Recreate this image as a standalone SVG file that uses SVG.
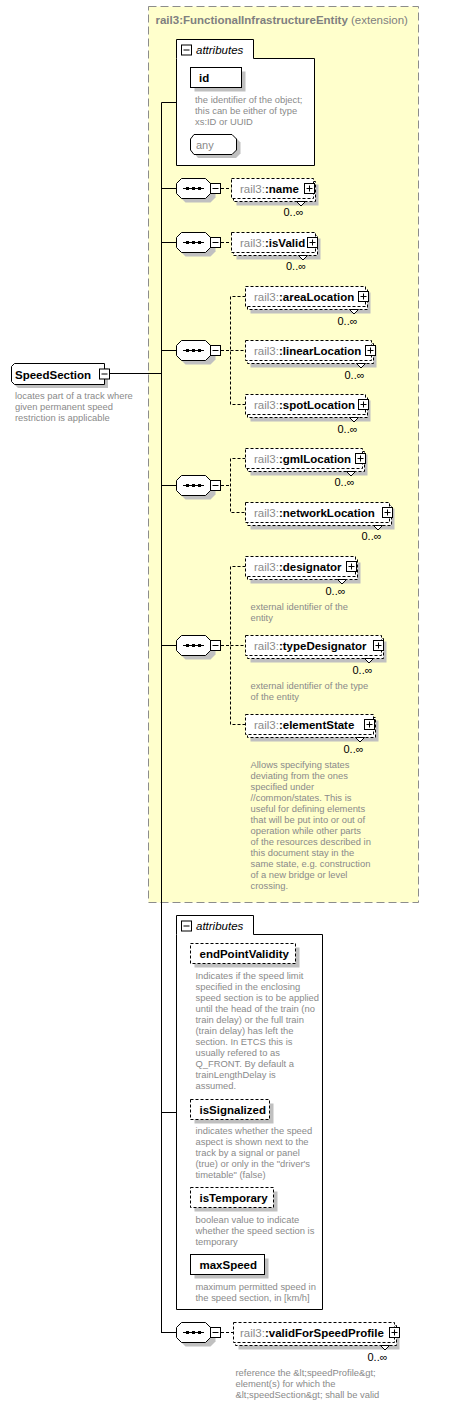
<svg xmlns="http://www.w3.org/2000/svg" xmlns:xlink="http://www.w3.org/1999/xlink" width="461" height="1405" viewBox="0 0 461 1405">
<style>
text{font-family:"Liberation Sans",Arial,sans-serif}
.t{font-size:11.5px;font-weight:bold;fill:#000}
.p{font-size:11.5px;font-weight:normal;fill:#8a8a8a}
.d{font-size:9.4px;fill:#8a8a8a}
.m{font-size:11px;fill:#000}
.ti{font-size:11.5px;font-weight:bold;fill:#808080}
.tn{font-size:11.5px;font-weight:normal;fill:#808080}
.at{font-size:11.5px;font-style:italic;fill:#000}
.ln{stroke:#000;stroke-width:1;fill:none}
.dl{stroke:#000;stroke-width:1;fill:none;stroke-dasharray:3,2}
.bx{fill:#fff;stroke:#000;stroke-width:1}
.db{fill:#fff;stroke:#000;stroke-width:1;stroke-dasharray:3,2}
.sh{fill:#c0c0c0}
</style>
<defs>
<symbol id="minus" viewBox="0 0 11 11" width="11" height="11" overflow="visible">
<rect x="0.5" y="0.5" width="10" height="10" fill="#fff" stroke="#000"/>
<line x1="2.5" y1="5.5" x2="8.5" y2="5.5" stroke="#000"/>
</symbol>
<symbol id="plus" viewBox="0 0 11 11" width="11" height="11" overflow="visible">
<rect x="0.5" y="0.5" width="10" height="10" fill="#fff" stroke="#000"/>
<line x1="2.5" y1="5.5" x2="8.5" y2="5.5" stroke="#000"/>
<line x1="5.5" y1="2.5" x2="5.5" y2="8.5" stroke="#000"/>
</symbol>
<symbol id="seq" viewBox="0 0 40 26" width="40" height="26" overflow="visible">
<polygon points="9.5,4.5 34.5,4.5 39.5,9.5 39.5,19.5 34.5,24.5 9.5,24.5 4.5,19.5 4.5,9.5" fill="#c0c0c0"/>
<polygon points="5.5,0.5 29.5,0.5 34.5,5.5 34.5,15.5 29.5,20.5 5.5,20.5 0.5,15.5 0.5,5.5" fill="#fff" stroke="#000"/>
<line x1="7" y1="10.5" x2="28" y2="10.5" stroke="#000"/>
<rect x="10" y="9" width="3" height="3" fill="#000"/>
<rect x="16" y="9" width="3" height="3" fill="#000"/>
<rect x="22" y="9" width="3" height="3" fill="#000"/>
</symbol>
<symbol id="notch" viewBox="0 0 10 6" width="10" height="6" overflow="visible">
<polygon points="0.5,0.5 9.5,0.5 5,5" fill="#fff" stroke="#000"/>
</symbol>
</defs>

<g id="extension">
<rect x="148.5" y="6.5" width="270" height="896" fill="#ffffcc" stroke="#8c8c8c" stroke-dasharray="8,4"/>
<text x="155.5" y="24"><tspan class="ti">rail3:FunctionalInfrastructureEntity</tspan><tspan class="tn"> (extension)</tspan></text>
</g>

<g id="connectors">
<line class="ln" x1="161.5" y1="102.5" x2="161.5" y2="1333"/>
<line class="ln" x1="109" y1="373.5" x2="161.5" y2="373.5"/>
<line class="ln" x1="161.5" y1="102.5" x2="176.5" y2="102.5"/>
<line class="ln" x1="161.5" y1="188.5" x2="176.5" y2="188.5"/>
<line class="ln" x1="161.5" y1="242.5" x2="176.5" y2="242.5"/>
<line class="ln" x1="161.5" y1="350.5" x2="176.5" y2="350.5"/>
<line class="ln" x1="161.5" y1="485.5" x2="176.5" y2="485.5"/>
<line class="ln" x1="161.5" y1="645.5" x2="176.5" y2="645.5"/>
<line class="ln" x1="161.5" y1="1112.5" x2="176.5" y2="1112.5"/>
<line class="ln" x1="161.5" y1="1332.5" x2="176.5" y2="1332.5"/>
<line class="dl" x1="221" y1="188.5" x2="231.5" y2="188.5"/>
<line class="dl" x1="221" y1="242.5" x2="231.5" y2="242.5"/>
<path class="dl" d="M221,350.5 H230.5 M245.5,296.5 H230.5 V404.5 H245.5 M230.5,350.5 H245.5"/>
<path class="dl" d="M221,485.5 H230.5 M245.5,458.5 H230.5 V512.5 H245.5"/>
<path class="dl" d="M221,645.5 H230.5 M245.5,566.5 H230.5 V724.5 H245.5 M230.5,645.5 H245.5"/>
<line class="dl" x1="221" y1="1332.5" x2="233.5" y2="1332.5"/>
</g>

<g id="SpeedSection">
<polygon class="sh" points="18,368 108,368 108,388 18,388 15,385 15,371"/>
<polygon class="bx" points="14.5,363.5 104.5,363.5 104.5,384.5 14.5,384.5 11.5,381.5 11.5,366.5"/>
<text class="t" x="15" y="378.5">SpeedSection</text>
<use href="#minus" x="99" y="368.5"/>
<text class="d"><tspan x="15" y="399">locates part of a track where</tspan><tspan x="15" y="410">given permanent speed</tspan><tspan x="15" y="421">restriction is applicable</tspan></text>
</g>

<g id="attributes1">
<path class="bx" d="M176.5,58.5 V39.5 H253.5 V58.5 H314.5 V165.5 H176.5 Z"/>
<use href="#minus" x="181" y="44.5"/>
<text class="at" x="196" y="54">attributes</text>
</g>
<g id="id">
<rect class="sh" x="194.5" y="71.5" width="51" height="20"/>
<rect class="bx" x="190.5" y="67.5" width="51" height="20"/>
<text class="t" x="199" y="81.5">id</text>
<text class="d"><tspan x="195" y="103">the identifier of the object;</tspan><tspan x="195" y="114">this can be either of type</tspan><tspan x="195" y="125">xs:ID or UUID</tspan></text>
</g>
<g id="any">
<polygon class="sh" points="198,138 236,138 240.5,142.5 240.5,153.5 236,158 198,158 194.5,153.5 194.5,142.5"/>
<polygon class="bx" points="194,134.5 232,134.5 236.5,139 236.5,150 232,154.5 194,154.5 190.5,150 190.5,139"/>
<text class="m" x="196" y="148.5" fill="#8a8a8a" style="fill:#8a8a8a">any</text>
</g>

<g id="seq-name">
<use href="#seq" x="176" y="178"/>
<use href="#minus" x="210" y="183"/>
</g>
<g id="name">
<rect class="sh" x="236.5" y="184.5" width="82" height="21"/>
<rect class="db" x="233.5" y="181.5" width="82" height="20"/>
<rect class="db" x="231.5" y="178.5" width="82" height="20"/>
<text x="240" y="193"><tspan class="p">rail3:</tspan><tspan class="t">:name</tspan></text>
<use href="#plus" x="304" y="183"/>
<use href="#notch" x="296" y="201"/>
<text class="m" x="283.5" y="216">0..∞</text>
</g>

<g id="seq-isValid">
<use href="#seq" x="176" y="232"/>
<use href="#minus" x="210" y="237"/>
</g>
<g id="isValid">
<rect class="sh" x="236.5" y="238.5" width="84" height="21"/>
<rect class="db" x="233.5" y="235.5" width="84" height="20"/>
<rect class="db" x="231.5" y="232.5" width="84" height="20"/>
<text x="240" y="247"><tspan class="p">rail3:</tspan><tspan class="t">:isValid</tspan></text>
<use href="#plus" x="307" y="237"/>
<use href="#notch" x="298" y="255"/>
<text class="m" x="286" y="270">0..∞</text>
</g>

<g id="seq-location">
<use href="#seq" x="176" y="340"/>
<use href="#minus" x="210" y="345"/>
</g>
<g id="areaLocation">
<rect class="sh" x="250.5" y="292.5" width="120" height="21"/>
<rect class="db" x="247.5" y="289.5" width="120" height="20"/>
<rect class="db" x="245.5" y="286.5" width="120" height="20"/>
<text x="254" y="301"><tspan class="p">rail3:</tspan><tspan class="t">:areaLocation</tspan></text>
<use href="#plus" x="358" y="291"/>
<use href="#notch" x="349" y="309"/>
<text class="m" x="337.5" y="324.5">0..∞</text>
</g>
<g id="linearLocation">
<rect class="sh" x="250.5" y="346.5" width="126" height="21"/>
<rect class="db" x="247.5" y="343.5" width="126" height="20"/>
<rect class="db" x="245.5" y="340.5" width="126" height="20"/>
<text x="254" y="355"><tspan class="p">rail3:</tspan><tspan class="t">:linearLocation</tspan></text>
<use href="#plus" x="365" y="345"/>
<use href="#notch" x="356" y="363"/>
<text class="m" x="344.5" y="378.5">0..∞</text>
</g>
<g id="spotLocation">
<rect class="sh" x="250.5" y="400.5" width="120" height="21"/>
<rect class="db" x="247.5" y="397.5" width="120" height="20"/>
<rect class="db" x="245.5" y="394.5" width="120" height="20"/>
<text x="254" y="409"><tspan class="p">rail3:</tspan><tspan class="t">:spotLocation</tspan></text>
<use href="#plus" x="358" y="399"/>
<use href="#notch" x="349" y="417"/>
<text class="m" x="337.5" y="432.5">0..∞</text>
</g>

<g id="seq-gml">
<use href="#seq" x="176" y="475"/>
<use href="#minus" x="210" y="480"/>
</g>
<g id="gmlLocation">
<rect class="sh" x="250.5" y="454.5" width="117" height="21"/>
<rect class="db" x="247.5" y="451.5" width="117" height="20"/>
<rect class="db" x="245.5" y="448.5" width="117" height="20"/>
<text x="254" y="463"><tspan class="p">rail3:</tspan><tspan class="t">:gmlLocation</tspan></text>
<use href="#plus" x="355" y="453"/>
<use href="#notch" x="346" y="471"/>
<text class="m" x="334.5" y="486">0..∞</text>
</g>
<g id="networkLocation">
<rect class="sh" x="250.5" y="508.5" width="144" height="21"/>
<rect class="db" x="247.5" y="505.5" width="144" height="20"/>
<rect class="db" x="245.5" y="502.5" width="144" height="20"/>
<text x="254" y="517"><tspan class="p">rail3:</tspan><tspan class="t">:networkLocation</tspan></text>
<use href="#plus" x="382" y="507"/>
<use href="#notch" x="373" y="525"/>
<text class="m" x="361.5" y="540">0..∞</text>
</g>

<g id="seq-designator">
<use href="#seq" x="176" y="635"/>
<use href="#minus" x="210" y="640"/>
</g>
<g id="designator">
<rect class="sh" x="250.5" y="562.5" width="110" height="21"/>
<rect class="db" x="247.5" y="559.5" width="110" height="20"/>
<rect class="db" x="245.5" y="556.5" width="110" height="20"/>
<text x="254" y="571"><tspan class="p">rail3:</tspan><tspan class="t">:designator</tspan></text>
<use href="#plus" x="346" y="561"/>
<use href="#notch" x="337" y="579"/>
<text class="m" x="325.5" y="594.5">0..∞</text>
<text class="d"><tspan x="250.5" y="610">external identifier of the</tspan><tspan x="250.5" y="621">entity</tspan></text>
</g>
<g id="typeDesignator">
<rect class="sh" x="250.5" y="641.5" width="136" height="21"/>
<rect class="db" x="247.5" y="638.5" width="136" height="20"/>
<rect class="db" x="245.5" y="635.5" width="136" height="20"/>
<text x="254" y="650"><tspan class="p">rail3:</tspan><tspan class="t">:typeDesignator</tspan></text>
<use href="#plus" x="373" y="640"/>
<use href="#notch" x="364" y="658"/>
<text class="m" x="352.5" y="673.5">0..∞</text>
<text class="d"><tspan x="250.5" y="689">external identifier of the type</tspan><tspan x="250.5" y="700">of the entity</tspan></text>
</g>
<g id="elementState">
<rect class="sh" x="250.5" y="720.5" width="128" height="21"/>
<rect class="db" x="247.5" y="717.5" width="128" height="20"/>
<rect class="db" x="245.5" y="714.5" width="128" height="20"/>
<text x="254" y="729"><tspan class="p">rail3:</tspan><tspan class="t">:elementState</tspan></text>
<use href="#plus" x="364" y="719"/>
<use href="#notch" x="355" y="737"/>
<text class="m" x="343.5" y="752.5">0..∞</text>
<text class="d"><tspan x="250.5" y="768">Allows specifying states</tspan><tspan x="250.5" y="779">deviating from the ones</tspan><tspan x="250.5" y="790">specified under</tspan><tspan x="250.5" y="801">//common/states. This is</tspan><tspan x="250.5" y="812">useful for defining elements</tspan><tspan x="250.5" y="823">that will be put into or out of</tspan><tspan x="250.5" y="834">operation while other parts</tspan><tspan x="250.5" y="845">of the resources described in</tspan><tspan x="250.5" y="856">this document stay in the</tspan><tspan x="250.5" y="867">same state, e.g. construction</tspan><tspan x="250.5" y="878">of a new bridge or level</tspan><tspan x="250.5" y="889">crossing.</tspan></text>
</g>

<g id="attributes2">
<path class="bx" d="M176.5,934.5 V915.5 H253.5 V934.5 H322.5 V1309.5 H176.5 Z"/>
<use href="#minus" x="181" y="920.5"/>
<text class="at" x="196" y="930">attributes</text>
</g>
<g id="endPointValidity">
<rect class="sh" x="194.5" y="947.5" width="105" height="20"/>
<rect class="db" x="190.5" y="943.5" width="105" height="20"/>
<text class="t" x="199.5" y="958">endPointValidity</text>
<text class="d"><tspan x="195.5" y="979">Indicates if the speed limit</tspan><tspan x="195.5" y="990">specified in the enclosing</tspan><tspan x="195.5" y="1001">speed section is to be applied</tspan><tspan x="195.5" y="1012">until the head of the train (no</tspan><tspan x="195.5" y="1023">train delay) or the full train</tspan><tspan x="195.5" y="1034">(train delay) has left the</tspan><tspan x="195.5" y="1045">section. In ETCS this is</tspan><tspan x="195.5" y="1056">usually refered to as</tspan><tspan x="195.5" y="1067">Q_FRONT. By default a</tspan><tspan x="195.5" y="1078">trainLengthDelay is</tspan><tspan x="195.5" y="1089">assumed.</tspan></text>
</g>
<g id="isSignalized">
<rect class="sh" x="194.5" y="1103.5" width="79" height="20"/>
<rect class="db" x="190.5" y="1099.5" width="79" height="20"/>
<text class="t" x="199.5" y="1114">isSignalized</text>
<text class="d"><tspan x="195.5" y="1134">indicates whether the speed</tspan><tspan x="195.5" y="1145">aspect is shown next to the</tspan><tspan x="195.5" y="1156">track by a signal or panel</tspan><tspan x="195.5" y="1167">(true) or only in the "driver's</tspan><tspan x="195.5" y="1178">timetable" (false)</tspan></text>
</g>
<g id="isTemporary">
<rect class="sh" x="194.5" y="1191.5" width="83" height="20"/>
<rect class="db" x="190.5" y="1187.5" width="83" height="20"/>
<text class="t" x="199.5" y="1202">isTemporary</text>
<text class="d"><tspan x="195.5" y="1223">boolean value to indicate</tspan><tspan x="195.5" y="1234">whether the speed section is</tspan><tspan x="195.5" y="1245">temporary</tspan></text>
</g>
<g id="maxSpeed">
<rect class="sh" x="194.5" y="1258.5" width="74" height="20"/>
<rect class="bx" x="190.5" y="1254.5" width="74" height="20"/>
<text class="t" x="199.5" y="1269">maxSpeed</text>
<text class="d"><tspan x="195.5" y="1290">maximum permitted speed in</tspan><tspan x="195.5" y="1301">the speed section, in [km/h]</tspan></text>
</g>

<g id="seq-validFor">
<use href="#seq" x="176" y="1322"/>
<use href="#minus" x="210" y="1327"/>
</g>
<g id="validForSpeedProfile">
<rect class="sh" x="238.5" y="1328.5" width="161" height="21"/>
<rect class="db" x="235.5" y="1325.5" width="161" height="20"/>
<rect class="db" x="233.5" y="1322.5" width="161" height="20"/>
<text x="240" y="1337"><tspan class="p">rail3:</tspan><tspan class="t">:validForSpeedProfile</tspan></text>
<use href="#plus" x="389" y="1327"/>
<use href="#notch" x="380" y="1345"/>
<text class="m" x="367.5" y="1361">0..∞</text>
<text class="d"><tspan x="235.5" y="1375.5">reference the &amp;lt;speedProfile&amp;gt;</tspan><tspan x="235.5" y="1386.5">element(s) for which the</tspan><tspan x="235.5" y="1397.5">&amp;lt;speedSection&amp;gt; shall be valid</tspan></text>
</g>
</svg>
